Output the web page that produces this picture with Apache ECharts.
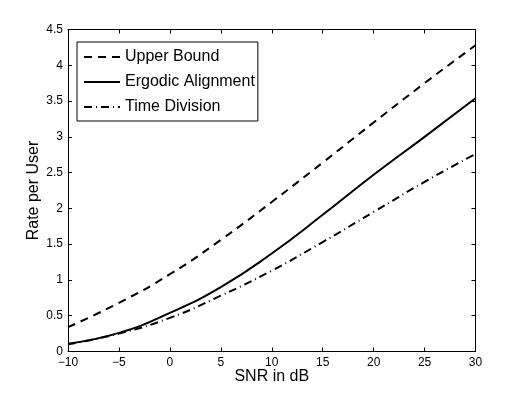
<!DOCTYPE html>
<html>
<head>
<meta charset="utf-8">
<title>Rate per User vs SNR</title>
<script src="https://cdn.jsdelivr.net/npm/echarts@6.0.0/dist/echarts.min.js"></script>
<style>
  html, body { margin: 0; padding: 0; background: #fff; }
  #chart { width: 526px; height: 396px; }
</style>
</head>
<body>
<div id="chart"></div>
<script>
// values
var snr = [-10, -5, 0, 5, 10, 15, 20, 25, 30];
var upperBound = [0.34, 0.68, 1.08, 1.56, 2.09, 2.64, 3.2, 3.75, 4.28];
var ergodicAlignment = [0.11, 0.26, 0.54, 0.9, 1.37, 1.91, 2.47, 3.0, 3.54];
var timeDivision = [0.1, 0.25, 0.47, 0.78, 1.13, 1.53, 1.95, 2.37, 2.76];
var xTicks = { min: -10, max: 30, interval: 5 };
var yTicks = { min: 0, max: 4.5, interval: 0.5 };

var font = '"Liberation Sans", Arial, Helvetica, sans-serif';

function pairs(ys) {
  return snr.map(function (x, i) { return [x, ys[i]]; });
}

function lineSeries(name, ys, dash) {
  return {
    name: name,
    type: 'line',
    data: pairs(ys),
    symbol: 'none',
    smooth: 0.5,
    lineStyle: { color: '#000', width: 2, type: dash },
    itemStyle: { color: '#000' }
  };
}

function axisCommon(extra) {
  var a = {
    type: 'value',
    axisLine: { show: true, onZero: false, lineStyle: { color: '#000', width: 1 } },
    axisTick: { show: true, inside: true, length: 4, lineStyle: { color: '#000' } },
    splitLine: { show: false },
    axisLabel: { show: true, color: '#000', fontFamily: font, fontSize: 12, margin: 5 }
  };
  return Object.assign(a, extra);
}

var chart = echarts.init(document.getElementById('chart'), null, { renderer: 'canvas' });

chart.setOption({
  animation: false,
  backgroundColor: '#fff',
  grid: { left: 68, right: 50.5, top: 29.5, bottom: 44.5 },
  legend: {
    orient: 'vertical',
    left: 77,
    top: 42,
    padding: [7, 3, 6, 6],
    itemGap: 9,
    itemWidth: 36,
    itemHeight: 14,
    borderColor: '#000',
    borderWidth: 1,
    backgroundColor: '#fff',
    // hide the symbol dot, keep only the line sample
    itemStyle: { opacity: 0 },
    textStyle: { color: '#000', fontFamily: font, fontSize: 16 },
    data: ['Upper Bound', 'Ergodic Alignment', 'Time Division']
  },
  xAxis: [
    axisCommon({
      min: xTicks.min, max: xTicks.max, interval: xTicks.interval,
      name: 'SNR in dB',
      nameLocation: 'middle',
      nameGap: 17,
      nameMoveOverlap: false,
      nameTextStyle: { color: '#000', fontFamily: font, fontSize: 16 },
      axisLabel: {
        color: '#000', fontFamily: font, fontSize: 12, margin: 5,
        formatter: function (v) { return String(v).replace('-', '\u2212'); }
      }
    }),
    axisCommon({
      min: xTicks.min, max: xTicks.max, interval: xTicks.interval,
      position: 'top',
      axisLabel: { show: false }
    })
  ],
  yAxis: [
    axisCommon({
      min: yTicks.min, max: yTicks.max, interval: yTicks.interval,
      name: 'Rate per User',
      nameLocation: 'middle',
      nameGap: 26,
      nameMoveOverlap: false,
      nameRotate: 90,
      nameTextStyle: { color: '#000', fontFamily: font, fontSize: 16 }
    }),
    axisCommon({
      min: yTicks.min, max: yTicks.max, interval: yTicks.interval,
      position: 'right',
      axisLabel: { show: false }
    })
  ],
  series: [
    lineSeries('Upper Bound', upperBound, [8, 6]),
    lineSeries('Ergodic Alignment', ergodicAlignment, 'solid'),
    lineSeries('Time Division', timeDivision, [8, 4, 1, 4])
  ]
});
</script>
</body>
</html>
